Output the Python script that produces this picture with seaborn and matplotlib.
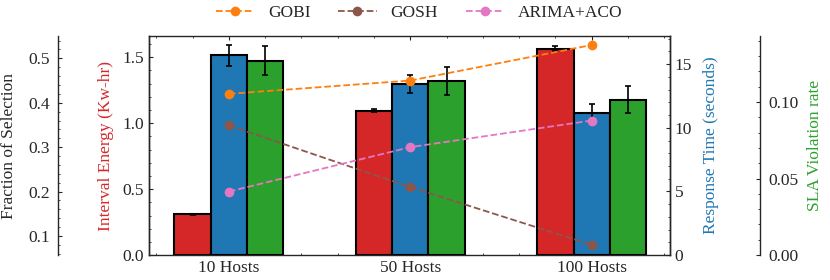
import matplotlib
matplotlib.use("Agg")
import matplotlib.pyplot as plt
from matplotlib.ticker import MultipleLocator
import numpy as np
import pandas as pd
import seaborn as sns

hosts = ["10 Hosts", "50 Hosts", "100 Hosts"]

energy = [0.31, 1.095, 1.565]
energy_err = [0.005, 0.012, 0.02]
response = [15.68, 13.43, 11.2]
response_err = [0.8, 0.73, 0.63]
sla = [0.127, 0.1136, 0.1015]
sla_err = [0.0095, 0.009, 0.0086]

methods = ["GOBI", "GOSH", "ARIMA+ACO"]
gobi = [0.42, 0.45, 0.53]
gosh = [0.349, 0.21, 0.08]
arima = [0.2, 0.30, 0.36]

metrics = ["Energy", "Response", "SLA"]
bar_colors = {"Energy": "#d62728", "Response": "#1f77b4", "SLA": "#2ca02c"}
line_colors = {"GOBI": "#ff7f0e", "GOSH": "#8c564b", "ARIMA+ACO": "#e377c2"}

sns.set_style("ticks")
plt.rcParams["font.family"] = "serif"
plt.rcParams["font.serif"] = ["Liberation Serif", "DejaVu Serif"]
plt.rcParams["font.size"] = 12.5
plt.rcParams["xtick.labelsize"] = 12.5
plt.rcParams["ytick.labelsize"] = 12.5
plt.rcParams["xtick.direction"] = "in"
plt.rcParams["ytick.direction"] = "in"
plt.rcParams["xtick.major.size"] = 3
plt.rcParams["ytick.major.size"] = 3
plt.rcParams["xtick.minor.size"] = 1.5
plt.rcParams["ytick.minor.size"] = 1.5
plt.rcParams["axes.linewidth"] = 1.0

bars = pd.DataFrame({
    "hosts": hosts * 3,
    "metric": np.repeat(metrics, 3),
    "value": energy + response + sla,
    "err": energy_err + response_err + sla_err,
})
lines = pd.DataFrame({
    "pos": list(range(3)) * 3,
    "method": np.repeat(methods, 3),
    "frac": gobi + gosh + arima,
})

fig, ax = plt.subplots(figsize=(8.3, 2.8), dpi=100)
fig.subplots_adjust(left=0.1795, right=0.807, bottom=0.089, top=0.871)
ax2 = ax.twinx()
ax3 = ax.twinx()
ax4 = ax.twinx()

offsets = {"Energy": -0.2, "Response": 0.0, "SLA": 0.2}
for a, m in zip([ax, ax2, ax3], metrics):
    sub = bars[bars.metric == m]
    sns.barplot(data=sub, x="hosts", y="value", hue="metric", hue_order=metrics,
                order=hosts, palette=bar_colors, width=0.6, dodge=True,
                saturation=1, edgecolor="black", linewidth=1.5, legend=False, ax=a)
    a.errorbar(np.arange(3) + offsets[m], sub["value"], yerr=sub["err"],
               fmt="none", ecolor="black", elinewidth=1.2, capsize=2.5, capthick=1.2)
    a.set_xlabel("")

sns.lineplot(data=lines, x="pos", y="frac", hue="method", hue_order=methods,
             palette=line_colors, marker="o", markersize=7, markeredgewidth=0,
             linestyle="--", linewidth=1.3, legend=False, ax=ax4)

ax.set_xlim(-0.44, 2.43)
ax.set_xticks(range(3))
ax.set_xticklabels(hosts)
ax.xaxis.set_minor_locator(MultipleLocator(0.2))
ax.tick_params(axis="x", which="both", top=True, bottom=True)
ax.tick_params(axis="y", which="both", right=False)

ax.set_ylim(0, 1.66)
ax.yaxis.set_major_locator(MultipleLocator(0.5))
ax.yaxis.set_minor_locator(MultipleLocator(0.1))
ax.set_ylabel("Interval Energy (Kw-hr)", color="#d62728", labelpad=6)

ax2.set_ylim(0, 17.2)
ax2.yaxis.set_major_locator(MultipleLocator(5))
ax2.yaxis.set_minor_locator(MultipleLocator(1))
ax2.set_ylabel("Response Time (seconds)", color="#1f77b4", labelpad=8)

ax3.set_ylim(0, 0.143)
ax3.yaxis.set_major_locator(MultipleLocator(0.05))
ax3.yaxis.set_minor_locator(MultipleLocator(0.01))
ax3.yaxis.set_major_formatter("{x:.2f}")
ax3.spines["right"].set_position(("axes", 1.173))
ax3.tick_params(axis="y", pad=6)
ax3.set_ylabel("SLA Violation rate", color="#2ca02c", labelpad=6)

ax4.set_ylim(0.057, 0.55)
ax4.yaxis.set_major_locator(MultipleLocator(0.1))
ax4.yaxis.set_minor_locator(MultipleLocator(0.02))
ax4.yaxis.set_ticks_position("left")
ax4.yaxis.set_label_position("left")
ax4.spines["left"].set_position(("axes", -0.175))
ax4.spines["left"].set_visible(True)
ax4.spines["right"].set_visible(False)
ax4.tick_params(axis="y", pad=6)
ax4.set_ylabel("Fraction of Selection", labelpad=8)
ax4.set_xlabel("")

for a in [ax2, ax3, ax4]:
    a.spines["top"].set_visible(False)
    a.spines["bottom"].set_visible(False)
    a.tick_params(axis="x", which="both", top=False, bottom=False)
ax3.spines["left"].set_visible(False)

handles = [plt.Line2D([], [], color=line_colors[m], linestyle="--", marker="o",
                      markersize=7, markeredgewidth=0, linewidth=1.3) for m in methods]
fig.legend(handles, methods, loc="upper center", bbox_to_anchor=(0.505, 1.04),
           ncol=3, frameon=False, columnspacing=1.6, handlelength=2.2,
           fontsize=12.5)

fig.savefig("out.png", dpi=100)
